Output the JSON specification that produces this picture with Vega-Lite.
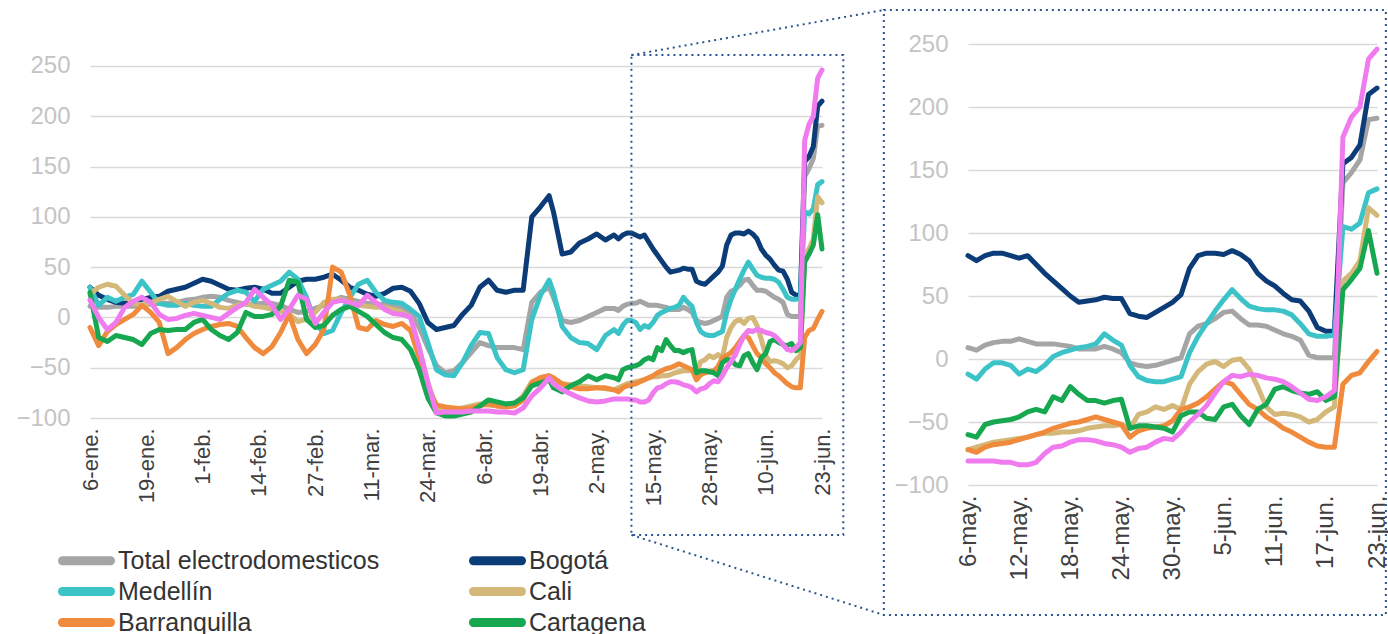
{
  "$schema": "https://vega.github.io/schema/vega-lite/v6.json",
  "background": "white",
  "padding": {"left": 15, "top": 8, "right": 0, "bottom": 0},
  "autosize": {"type": "pad"},
  "bounds": "flush",
  "spacing": 146,
  "config": {
    "view": {"stroke": null},
    "font": "Liberation Sans"
  },
  "datasets": {
    "s": [
      {"d":"2020-01-06","Total electrodomesticos":11,"Bogotá":30,"Medellín":30,"Cali":23,"Barranquilla":-10,"Cartagena":25,"Bucaramanga":17},
      {"d":"2020-01-08","Total electrodomesticos":10,"Bogotá":22,"Medellín":12,"Cali":30,"Barranquilla":-28,"Cartagena":-20,"Bucaramanga":0},
      {"d":"2020-01-10","Total electrodomesticos":10,"Bogotá":18,"Medellín":20,"Cali":33,"Barranquilla":-14,"Cartagena":-24,"Bucaramanga":-12},
      {"d":"2020-01-12","Total electrodomesticos":11,"Bogotá":15,"Medellín":16,"Cali":31,"Barranquilla":-7,"Cartagena":-18,"Bucaramanga":-5},
      {"d":"2020-01-14","Total electrodomesticos":11,"Bogotá":14,"Medellín":20,"Cali":22,"Barranquilla":-2,"Cartagena":-20,"Bucaramanga":10},
      {"d":"2020-01-16","Total electrodomesticos":11,"Bogotá":16,"Medellín":23,"Cali":14,"Barranquilla":3,"Cartagena":-22,"Bucaramanga":16},
      {"d":"2020-01-18","Total electrodomesticos":12,"Bogotá":18,"Medellín":36,"Cali":12,"Barranquilla":12,"Cartagena":-27,"Bucaramanga":20},
      {"d":"2020-01-20","Total electrodomesticos":13,"Bogotá":20,"Medellín":25,"Cali":14,"Barranquilla":5,"Cartagena":-16,"Bucaramanga":15},
      {"d":"2020-01-22","Total electrodomesticos":14,"Bogotá":21,"Medellín":14,"Cali":18,"Barranquilla":-5,"Cartagena":-12,"Bucaramanga":3},
      {"d":"2020-01-24","Total electrodomesticos":14,"Bogotá":26,"Medellín":12,"Cali":21,"Barranquilla":-36,"Cartagena":-13,"Bucaramanga":-2},
      {"d":"2020-01-26","Total electrodomesticos":15,"Bogotá":28,"Medellín":12,"Cali":16,"Barranquilla":-30,"Cartagena":-12,"Bucaramanga":-1},
      {"d":"2020-01-28","Total electrodomesticos":17,"Bogotá":30,"Medellín":14,"Cali":11,"Barranquilla":-22,"Cartagena":-12,"Bucaramanga":2},
      {"d":"2020-01-30","Total electrodomesticos":18,"Bogotá":34,"Medellín":12,"Cali":15,"Barranquilla":-16,"Cartagena":-5,"Bucaramanga":4},
      {"d":"2020-02-01","Total electrodomesticos":20,"Bogotá":38,"Medellín":11,"Cali":17,"Barranquilla":-12,"Cartagena":-2,"Bucaramanga":2},
      {"d":"2020-02-03","Total electrodomesticos":21,"Bogotá":36,"Medellín":11,"Cali":14,"Barranquilla":-9,"Cartagena":-12,"Bucaramanga":0},
      {"d":"2020-02-05","Total electrodomesticos":20,"Bogotá":32,"Medellín":18,"Cali":10,"Barranquilla":-7,"Cartagena":-18,"Bucaramanga":-2},
      {"d":"2020-02-07","Total electrodomesticos":17,"Bogotá":28,"Medellín":24,"Cali":9,"Barranquilla":-6,"Cartagena":-22,"Bucaramanga":4},
      {"d":"2020-02-09","Total electrodomesticos":15,"Bogotá":27,"Medellín":27,"Cali":12,"Barranquilla":-9,"Cartagena":-15,"Bucaramanga":10},
      {"d":"2020-02-11","Total electrodomesticos":13,"Bogotá":29,"Medellín":25,"Cali":14,"Barranquilla":-20,"Cartagena":5,"Bucaramanga":15},
      {"d":"2020-02-13","Total electrodomesticos":13,"Bogotá":30,"Medellín":16,"Cali":11,"Barranquilla":-30,"Cartagena":1,"Bucaramanga":28},
      {"d":"2020-02-15","Total electrodomesticos":14,"Bogotá":28,"Medellín":28,"Cali":10,"Barranquilla":-36,"Cartagena":1,"Bucaramanga":20},
      {"d":"2020-02-17","Total electrodomesticos":14,"Bogotá":24,"Medellín":32,"Cali":8,"Barranquilla":-29,"Cartagena":3,"Bucaramanga":12},
      {"d":"2020-02-19","Total electrodomesticos":12,"Bogotá":24,"Medellín":36,"Cali":6,"Barranquilla":-15,"Cartagena":11,"Bucaramanga":-2},
      {"d":"2020-02-21","Total electrodomesticos":8,"Bogotá":30,"Medellín":45,"Cali":3,"Barranquilla":3,"Cartagena":37,"Bucaramanga":8},
      {"d":"2020-02-23","Total electrodomesticos":5,"Bogotá":36,"Medellín":38,"Cali":-4,"Barranquilla":-22,"Cartagena":35,"Bucaramanga":22},
      {"d":"2020-02-25","Total electrodomesticos":6,"Bogotá":38,"Medellín":20,"Cali":-2,"Barranquilla":-36,"Cartagena":-2,"Bucaramanga":18},
      {"d":"2020-02-27","Total electrodomesticos":9,"Bogotá":38,"Medellín":-5,"Cali":5,"Barranquilla":-27,"Cartagena":-10,"Bucaramanga":-6},
      {"d":"2020-02-29","Total electrodomesticos":12,"Bogotá":40,"Medellín":-16,"Cali":15,"Barranquilla":-12,"Cartagena":-8,"Bucaramanga":5},
      {"d":"2020-03-02","Total electrodomesticos":16,"Bogotá":43,"Medellín":-13,"Cali":18,"Barranquilla":50,"Cartagena":2,"Bucaramanga":15},
      {"d":"2020-03-04","Total electrodomesticos":20,"Bogotá":37,"Medellín":5,"Cali":18,"Barranquilla":45,"Cartagena":8,"Bucaramanga":17},
      {"d":"2020-03-06","Total electrodomesticos":18,"Bogotá":30,"Medellín":20,"Cali":15,"Barranquilla":22,"Cartagena":11,"Bucaramanga":15},
      {"d":"2020-03-08","Total electrodomesticos":16,"Bogotá":27,"Medellín":33,"Cali":12,"Barranquilla":-10,"Cartagena":6,"Bucaramanga":12},
      {"d":"2020-03-10","Total electrodomesticos":14,"Bogotá":23,"Medellín":37,"Cali":11,"Barranquilla":-12,"Cartagena":1,"Bucaramanga":22},
      {"d":"2020-03-12","Total electrodomesticos":13,"Bogotá":21,"Medellín":25,"Cali":10,"Barranquilla":-3,"Cartagena":-7,"Bucaramanga":15},
      {"d":"2020-03-14","Total electrodomesticos":13,"Bogotá":24,"Medellín":17,"Cali":10,"Barranquilla":-7,"Cartagena":-15,"Bucaramanga":8},
      {"d":"2020-03-16","Total electrodomesticos":12,"Bogotá":29,"Medellín":15,"Cali":8,"Barranquilla":-9,"Cartagena":-20,"Bucaramanga":4},
      {"d":"2020-03-18","Total electrodomesticos":10,"Bogotá":30,"Medellín":14,"Cali":5,"Barranquilla":-6,"Cartagena":-22,"Bucaramanga":3},
      {"d":"2020-03-20","Total electrodomesticos":5,"Bogotá":26,"Medellín":8,"Cali":0,"Barranquilla":-13,"Cartagena":-32,"Bucaramanga":0},
      {"d":"2020-03-22","Total electrodomesticos":-10,"Bogotá":14,"Medellín":1,"Cali":-30,"Barranquilla":-40,"Cartagena":-52,"Bucaramanga":-30},
      {"d":"2020-03-24","Total electrodomesticos":-30,"Bogotá":-5,"Medellín":-25,"Cali":-65,"Barranquilla":-70,"Cartagena":-80,"Bucaramanga":-65},
      {"d":"2020-03-26","Total electrodomesticos":-48,"Bogotá":-12,"Medellín":-52,"Cali":-90,"Barranquilla":-87,"Cartagena":-95,"Bucaramanga":-95},
      {"d":"2020-03-28","Total electrodomesticos":-55,"Bogotá":-10,"Medellín":-57,"Cali":-92,"Barranquilla":-89,"Cartagena":-98,"Bucaramanga":-94},
      {"d":"2020-03-30","Total electrodomesticos":-53,"Bogotá":-8,"Medellín":-58,"Cali":-91,"Barranquilla":-90,"Cartagena":-98,"Bucaramanga":-94},
      {"d":"2020-04-01","Total electrodomesticos":-45,"Bogotá":3,"Medellín":-45,"Cali":-90,"Barranquilla":-91,"Cartagena":-96,"Bucaramanga":-94},
      {"d":"2020-04-03","Total electrodomesticos":-35,"Bogotá":12,"Medellín":-28,"Cali":-88,"Barranquilla":-90,"Cartagena":-94,"Bucaramanga":-93},
      {"d":"2020-04-05","Total electrodomesticos":-25,"Bogotá":30,"Medellín":-15,"Cali":-86,"Barranquilla":-88,"Cartagena":-88,"Bucaramanga":-93},
      {"d":"2020-04-07","Total electrodomesticos":-28,"Bogotá":37,"Medellín":-16,"Cali":-87,"Barranquilla":-86,"Cartagena":-82,"Bucaramanga":-93},
      {"d":"2020-04-09","Total electrodomesticos":-30,"Bogotá":27,"Medellín":-40,"Cali":-88,"Barranquilla":-88,"Cartagena":-84,"Bucaramanga":-94},
      {"d":"2020-04-11","Total electrodomesticos":-30,"Bogotá":25,"Medellín":-52,"Cali":-88,"Barranquilla":-89,"Cartagena":-86,"Bucaramanga":-94},
      {"d":"2020-04-13","Total electrodomesticos":-30,"Bogotá":27,"Medellín":-55,"Cali":-86,"Barranquilla":-88,"Cartagena":-85,"Bucaramanga":-95},
      {"d":"2020-04-15","Total electrodomesticos":-32,"Bogotá":27,"Medellín":-52,"Cali":-78,"Barranquilla":-82,"Cartagena":-80,"Bucaramanga":-90},
      {"d":"2020-04-17","Total electrodomesticos":15,"Bogotá":100,"Medellín":-2,"Cali":-64,"Barranquilla":-65,"Cartagena":-68,"Bucaramanga":-78},
      {"d":"2020-04-19","Total electrodomesticos":25,"Bogotá":110,"Medellín":22,"Cali":-60,"Barranquilla":-60,"Cartagena":-65,"Bucaramanga":-70},
      {"d":"2020-04-21","Total electrodomesticos":30,"Bogotá":121,"Medellín":37,"Cali":-58,"Barranquilla":-58,"Cartagena":-62,"Bucaramanga":-60},
      {"d":"2020-04-22","Total electrodomesticos":20,"Bogotá":105,"Medellín":25,"Cali":-63,"Barranquilla":-60,"Cartagena":-70,"Bucaramanga":-66},
      {"d":"2020-04-24","Total electrodomesticos":-3,"Bogotá":63,"Medellín":-9,"Cali":-66,"Barranquilla":-66,"Cartagena":-74,"Bucaramanga":-72},
      {"d":"2020-04-26","Total electrodomesticos":-5,"Bogotá":65,"Medellín":-20,"Cali":-67,"Barranquilla":-69,"Cartagena":-68,"Bucaramanga":-76},
      {"d":"2020-04-28","Total electrodomesticos":-3,"Bogotá":74,"Medellín":-25,"Cali":-68,"Barranquilla":-71,"Cartagena":-64,"Bucaramanga":-80},
      {"d":"2020-04-30","Total electrodomesticos":1,"Bogotá":78,"Medellín":-26,"Cali":-69,"Barranquilla":-71,"Cartagena":-58,"Bucaramanga":-83},
      {"d":"2020-05-02","Total electrodomesticos":5,"Bogotá":83,"Medellín":-32,"Cali":-70,"Barranquilla":-70,"Cartagena":-62,"Bucaramanga":-84},
      {"d":"2020-05-04","Total electrodomesticos":9,"Bogotá":77,"Medellín":-18,"Cali":-71,"Barranquilla":-70,"Cartagena":-58,"Bucaramanga":-83},
      {"d":"2020-05-06","Total electrodomesticos":9,"Bogotá":82,"Medellín":-12,"Cali":-72,"Barranquilla":-72,"Cartagena":-60,"Bucaramanga":-81},
      {"d":"2020-05-07","Total electrodomesticos":7,"Bogotá":78,"Medellín":-16,"Cali":-70,"Barranquilla":-74,"Cartagena":-62,"Bucaramanga":-81},
      {"d":"2020-05-08","Total electrodomesticos":11,"Bogotá":82,"Medellín":-8,"Cali":-68,"Barranquilla":-70,"Cartagena":-52,"Bucaramanga":-81},
      {"d":"2020-05-09","Total electrodomesticos":13,"Bogotá":84,"Medellín":-3,"Cali":-66,"Barranquilla":-68,"Cartagena":-50,"Bucaramanga":-81},
      {"d":"2020-05-10","Total electrodomesticos":14,"Bogotá":84,"Medellín":-3,"Cali":-65,"Barranquilla":-67,"Cartagena":-49,"Bucaramanga":-82},
      {"d":"2020-05-11","Total electrodomesticos":14,"Bogotá":82,"Medellín":-5,"Cali":-64,"Barranquilla":-66,"Cartagena":-48,"Bucaramanga":-82},
      {"d":"2020-05-12","Total electrodomesticos":16,"Bogotá":80,"Medellín":-12,"Cali":-63,"Barranquilla":-64,"Cartagena":-46,"Bucaramanga":-84},
      {"d":"2020-05-13","Total electrodomesticos":14,"Bogotá":82,"Medellín":-8,"Cali":-62,"Barranquilla":-62,"Cartagena":-42,"Bucaramanga":-84},
      {"d":"2020-05-14","Total electrodomesticos":12,"Bogotá":75,"Medellín":-10,"Cali":-60,"Barranquilla":-60,"Cartagena":-40,"Bucaramanga":-82},
      {"d":"2020-05-15","Total electrodomesticos":12,"Bogotá":68,"Medellín":-5,"Cali":-59,"Barranquilla":-58,"Cartagena":-42,"Bucaramanga":-75},
      {"d":"2020-05-16","Total electrodomesticos":12,"Bogotá":62,"Medellín":2,"Cali":-59,"Barranquilla":-55,"Cartagena":-30,"Bucaramanga":-70},
      {"d":"2020-05-17","Total electrodomesticos":11,"Bogotá":56,"Medellín":5,"Cali":-58,"Barranquilla":-53,"Cartagena":-33,"Bucaramanga":-69},
      {"d":"2020-05-18","Total electrodomesticos":10,"Bogotá":50,"Medellín":7,"Cali":-58,"Barranquilla":-51,"Cartagena":-22,"Bucaramanga":-66},
      {"d":"2020-05-19","Total electrodomesticos":8,"Bogotá":45,"Medellín":9,"Cali":-57,"Barranquilla":-50,"Cartagena":-28,"Bucaramanga":-64},
      {"d":"2020-05-20","Total electrodomesticos":8,"Bogotá":46,"Medellín":10,"Cali":-55,"Barranquilla":-48,"Cartagena":-33,"Bucaramanga":-64},
      {"d":"2020-05-21","Total electrodomesticos":8,"Bogotá":47,"Medellín":12,"Cali":-54,"Barranquilla":-46,"Cartagena":-33,"Bucaramanga":-65},
      {"d":"2020-05-22","Total electrodomesticos":10,"Bogotá":49,"Medellín":20,"Cali":-53,"Barranquilla":-48,"Cartagena":-35,"Bucaramanga":-67},
      {"d":"2020-05-23","Total electrodomesticos":8,"Bogotá":48,"Medellín":15,"Cali":-53,"Barranquilla":-50,"Cartagena":-33,"Bucaramanga":-68},
      {"d":"2020-05-24","Total electrodomesticos":5,"Bogotá":48,"Medellín":11,"Cali":-52,"Barranquilla":-52,"Cartagena":-32,"Bucaramanga":-70},
      {"d":"2020-05-25","Total electrodomesticos":-3,"Bogotá":36,"Medellín":-5,"Cali":-55,"Barranquilla":-62,"Cartagena":-55,"Bucaramanga":-74},
      {"d":"2020-05-26","Total electrodomesticos":-5,"Bogotá":34,"Medellín":-14,"Cali":-44,"Barranquilla":-57,"Cartagena":-53,"Bucaramanga":-71},
      {"d":"2020-05-27","Total electrodomesticos":-6,"Bogotá":33,"Medellín":-17,"Cali":-42,"Barranquilla":-55,"Cartagena":-53,"Bucaramanga":-70},
      {"d":"2020-05-28","Total electrodomesticos":-5,"Bogotá":37,"Medellín":-18,"Cali":-38,"Barranquilla":-54,"Cartagena":-54,"Bucaramanga":-66},
      {"d":"2020-05-29","Total electrodomesticos":-3,"Bogotá":41,"Medellín":-18,"Cali":-40,"Barranquilla":-53,"Cartagena":-55,"Bucaramanga":-63},
      {"d":"2020-05-30","Total electrodomesticos":-1,"Bogotá":45,"Medellín":-16,"Cali":-37,"Barranquilla":-49,"Cartagena":-58,"Bucaramanga":-64},
      {"d":"2020-05-31","Total electrodomesticos":1,"Bogotá":51,"Medellín":-14,"Cali":-40,"Barranquilla":-40,"Cartagena":-45,"Bucaramanga":-58},
      {"d":"2020-06-01","Total electrodomesticos":20,"Bogotá":72,"Medellín":5,"Cali":-20,"Barranquilla":-38,"Cartagena":-42,"Bucaramanga":-50},
      {"d":"2020-06-02","Total electrodomesticos":26,"Bogotá":82,"Medellín":18,"Cali":-10,"Barranquilla":-35,"Cartagena":-42,"Bucaramanga":-44},
      {"d":"2020-06-03","Total electrodomesticos":28,"Bogotá":84,"Medellín":28,"Cali":-4,"Barranquilla":-30,"Cartagena":-47,"Bucaramanga":-37},
      {"d":"2020-06-04","Total electrodomesticos":32,"Bogotá":84,"Medellín":38,"Cali":-2,"Barranquilla":-24,"Cartagena":-48,"Bucaramanga":-27},
      {"d":"2020-06-05","Total electrodomesticos":37,"Bogotá":83,"Medellín":47,"Cali":-6,"Barranquilla":-18,"Cartagena":-38,"Bucaramanga":-18},
      {"d":"2020-06-06","Total electrodomesticos":38,"Bogotá":86,"Medellín":55,"Cali":-1,"Barranquilla":-20,"Cartagena":-36,"Bucaramanga":-13},
      {"d":"2020-06-07","Total electrodomesticos":32,"Bogotá":83,"Medellín":48,"Cali":0,"Barranquilla":-28,"Cartagena":-45,"Bucaramanga":-14},
      {"d":"2020-06-08","Total electrodomesticos":27,"Bogotá":78,"Medellín":42,"Cali":-8,"Barranquilla":-36,"Cartagena":-52,"Bucaramanga":-12},
      {"d":"2020-06-09","Total electrodomesticos":27,"Bogotá":68,"Medellín":40,"Cali":-22,"Barranquilla":-40,"Cartagena":-40,"Bucaramanga":-13},
      {"d":"2020-06-10","Total electrodomesticos":26,"Bogotá":62,"Medellín":39,"Cali":-38,"Barranquilla":-46,"Cartagena":-36,"Bucaramanga":-15},
      {"d":"2020-06-11","Total electrodomesticos":23,"Bogotá":58,"Medellín":39,"Cali":-44,"Barranquilla":-50,"Cartagena":-24,"Bucaramanga":-16},
      {"d":"2020-06-12","Total electrodomesticos":20,"Bogotá":52,"Medellín":38,"Cali":-43,"Barranquilla":-55,"Cartagena":-22,"Bucaramanga":-18},
      {"d":"2020-06-13","Total electrodomesticos":18,"Bogotá":47,"Medellín":35,"Cali":-44,"Barranquilla":-58,"Cartagena":-25,"Bucaramanga":-22},
      {"d":"2020-06-14","Total electrodomesticos":15,"Bogotá":46,"Medellín":28,"Cali":-46,"Barranquilla":-62,"Cartagena":-27,"Bucaramanga":-27},
      {"d":"2020-06-15","Total electrodomesticos":3,"Bogotá":38,"Medellín":20,"Cali":-50,"Barranquilla":-66,"Cartagena":-28,"Bucaramanga":-32},
      {"d":"2020-06-16","Total electrodomesticos":1,"Bogotá":25,"Medellín":18,"Cali":-48,"Barranquilla":-69,"Cartagena":-26,"Bucaramanga":-33},
      {"d":"2020-06-17","Total electrodomesticos":1,"Bogotá":22,"Medellín":18,"Cali":-42,"Barranquilla":-70,"Cartagena":-33,"Bucaramanga":-30},
      {"d":"2020-06-18","Total electrodomesticos":1,"Bogotá":22,"Medellín":19,"Cali":-38,"Barranquilla":-70,"Cartagena":-30,"Bucaramanga":-25},
      {"d":"2020-06-19","Total electrodomesticos":140,"Bogotá":155,"Medellín":105,"Cali":62,"Barranquilla":-20,"Cartagena":55,"Bucaramanga":176},
      {"d":"2020-06-20","Total electrodomesticos":148,"Bogotá":160,"Medellín":103,"Cali":68,"Barranquilla":-13,"Cartagena":63,"Bucaramanga":192},
      {"d":"2020-06-21","Total electrodomesticos":158,"Bogotá":170,"Medellín":108,"Cali":78,"Barranquilla":-11,"Cartagena":72,"Bucaramanga":200},
      {"d":"2020-06-22","Total electrodomesticos":190,"Bogotá":210,"Medellín":132,"Cali":120,"Barranquilla":-2,"Cartagena":102,"Bucaramanga":238},
      {"d":"2020-06-23","Total electrodomesticos":191,"Bogotá":215,"Medellín":135,"Cali":114,"Barranquilla":6,"Cartagena":68,"Bucaramanga":246}
    ]
  },
  "resolve": {
    "scale": {"x": "independent", "y": "independent", "color": "independent"},
    "legend": {"color": "independent"}
  },
  "hconcat": [
    {
      "width": 732,
      "height": 374,
      "layer": [
        {
          "data": {"name": "s"},
          "transform": [
            {"fold": ["Total electrodomesticos", "Bogotá", "Medellín", "Cali", "Barranquilla", "Cartagena", "Bucaramanga"], "as": ["serie", "valor"]}
          ],
          "mark": {"type": "line", "strokeWidth": 5, "strokeJoin": "round", "strokeCap": "round"},
          "encoding": {
            "x": {
              "field": "d", "type": "temporal",
              "scale": {"type": "utc", "domain": [{"year": 2020, "month": 1, "date": 6, "utc": true}, {"year": 2020, "month": 6, "date": 23, "utc": true}]},
              "axis": {
                "title": null, "grid": false, "ticks": false, "domain": false,
                "values": [
                  {"year": 2020, "month": 1, "date": 6, "utc": true},
                  {"year": 2020, "month": 1, "date": 19, "utc": true},
                  {"year": 2020, "month": 2, "date": 1, "utc": true},
                  {"year": 2020, "month": 2, "date": 14, "utc": true},
                  {"year": 2020, "month": 2, "date": 27, "utc": true},
                  {"year": 2020, "month": 3, "date": 11, "utc": true},
                  {"year": 2020, "month": 3, "date": 24, "utc": true},
                  {"year": 2020, "month": 4, "date": 6, "utc": true},
                  {"year": 2020, "month": 4, "date": 19, "utc": true},
                  {"year": 2020, "month": 5, "date": 2, "utc": true},
                  {"year": 2020, "month": 5, "date": 15, "utc": true},
                  {"year": 2020, "month": 5, "date": 28, "utc": true},
                  {"year": 2020, "month": 6, "date": 10, "utc": true},
                  {"year": 2020, "month": 6, "date": 23, "utc": true}
                ],
                "labelExpr": "utcdate(datum.value) + '-' + ['ene','feb','mar','abr','may','jun','jul'][utcmonth(datum.value)] + '.'",
                "labelAngle": -90, "labelAlign": "right", "labelBaseline": "middle",
                "labelFontSize": 22, "labelColor": "#404040", "labelPadding": 10,
                "labelFlush": false, "labelOverlap": false
              }
            },
            "y": {
              "field": "valor", "type": "quantitative",
              "scale": {"domain": [-100, 271.87], "nice": false, "zero": false},
              "axis": {
                "title": null, "values": [-100, -50, 0, 50, 100, 150, 200, 250],
                "grid": true, "gridColor": "#d9d9d9", "gridWidth": 1.5,
                "domain": false, "ticks": false,
                "labelFontSize": 24, "labelColor": "#c4c4c4", "labelPadding": 20
              }
            },
            "color": {
              "field": "serie", "type": "nominal",
              "scale": {
                "domain": ["Total electrodomesticos", "Bogotá", "Medellín", "Cali", "Barranquilla", "Cartagena", "Bucaramanga"],
                "range": ["#a5a5a5", "#0b3c78", "#3cc3c8", "#d3b87a", "#f08a3c", "#16a750", "#ef7bef"]
              },
              "legend": {
                "orient": "none", "legendX": -16, "legendY": 504,
                "direction": "horizontal",
                "columns": 2, "columnPadding": 75, "rowPadding": -9,
                "title": null,
                "values": ["Total electrodomesticos", "Bogotá", "Medellín", "Cali", "Barranquilla", "Cartagena"],
                "symbolType": "M-3,0H3", "symbolSize": 256, "symbolStrokeWidth": 9,
                "labelFontSize": 25, "labelColor": "#333333", "labelLimit": 400, "labelOffset": 19,
                "encode": {"symbols": {"update": {"strokeCap": {"value": "round"}}}}
              }
            }
          }
        },
        {
          "data": {"values": [{}]},
          "mark": {"type": "rect", "filled": false, "stroke": "#2a5490", "strokeWidth": 2, "strokeDash": [2, 4], "clip": false},
          "encoding": {
            "x": {"datum": {"year": 2020, "month": 5, "date": 10, "utc": true}, "type": "temporal"},
            "x2": {"datum": {"year": 2020, "month": 6, "date": 27, "hours": 22, "utc": true}},
            "y": {"datum": 260.9, "type": "quantitative"},
            "y2": {"datum": -216.3}
          }
        },
        {
          "data": {"values": [{}]},
          "mark": {"type": "rule", "stroke": "#2a5490", "strokeWidth": 2, "strokeDash": [2, 4], "clip": false},
          "encoding": {
            "x": {"datum": {"year": 2020, "month": 5, "date": 10, "utc": true}, "type": "temporal"},
            "x2": {"datum": {"year": 2020, "month": 7, "date": 7, "hours": 8, "utc": true}},
            "y": {"datum": 260.9, "type": "quantitative"},
            "y2": {"datum": 305.7}
          }
        },
        {
          "data": {"values": [{}]},
          "mark": {"type": "rule", "stroke": "#2a5490", "strokeWidth": 2, "strokeDash": [2, 4], "clip": false},
          "encoding": {
            "x": {"datum": {"year": 2020, "month": 5, "date": 10, "utc": true}, "type": "temporal"},
            "x2": {"datum": {"year": 2020, "month": 7, "date": 7, "hours": 8, "utc": true}},
            "y": {"datum": -216.3, "type": "quantitative"},
            "y2": {"datum": -295.9}
          }
        }
      ]
    },
    {
      "width": 409,
      "height": 441,
      "layer": [
        {
          "data": {"name": "s"},
          "transform": [
            {"fold": ["Total electrodomesticos", "Bogotá", "Medellín", "Cali", "Barranquilla", "Cartagena", "Bucaramanga"], "as": ["serie", "valor"]},
            {"filter": {"field": "d", "gte": {"year": 2020, "month": 5, "date": 6, "utc": true}}}
          ],
          "mark": {"type": "line", "strokeWidth": 5, "strokeJoin": "round", "strokeCap": "round"},
          "encoding": {
            "x": {
              "field": "d", "type": "temporal",
              "scale": {"type": "utc", "domain": [{"year": 2020, "month": 5, "date": 6, "utc": true}, {"year": 2020, "month": 6, "date": 23, "utc": true}]},
              "axis": {
                "title": null, "grid": false, "ticks": false, "domain": false,
                "values": [
                  {"year": 2020, "month": 5, "date": 6, "utc": true},
                  {"year": 2020, "month": 5, "date": 12, "utc": true},
                  {"year": 2020, "month": 5, "date": 18, "utc": true},
                  {"year": 2020, "month": 5, "date": 24, "utc": true},
                  {"year": 2020, "month": 5, "date": 30, "utc": true},
                  {"year": 2020, "month": 6, "date": 5, "utc": true},
                  {"year": 2020, "month": 6, "date": 11, "utc": true},
                  {"year": 2020, "month": 6, "date": 17, "utc": true},
                  {"year": 2020, "month": 6, "date": 23, "utc": true}
                ],
                "labelExpr": "utcdate(datum.value) + '-' + ['ene','feb','mar','abr','may','jun','jul'][utcmonth(datum.value)] + '.'",
                "labelAngle": -90, "labelAlign": "right", "labelBaseline": "middle",
                "labelFontSize": 24, "labelColor": "#404040", "labelPadding": 10,
                "labelFlush": false, "labelOverlap": false
              }
            },
            "y": {
              "field": "valor", "type": "quantitative",
              "scale": {"domain": [-100, 250], "nice": false, "zero": false},
              "axis": {
                "title": null, "values": [-100, -50, 0, 50, 100, 150, 200, 250],
                "grid": true, "gridColor": "#d9d9d9", "gridWidth": 1.5,
                "domain": false, "ticks": false,
                "labelFontSize": 24, "labelColor": "#c4c4c4", "labelPadding": 20
              }
            },
            "color": {
              "field": "serie", "type": "nominal",
              "scale": {
                "domain": ["Total electrodomesticos", "Bogotá", "Medellín", "Cali", "Barranquilla", "Cartagena", "Bucaramanga"],
                "range": ["#a5a5a5", "#0b3c78", "#3cc3c8", "#d3b87a", "#f08a3c", "#16a750", "#ef7bef"]
              },
              "legend": null
            }
          }
        },
        {
          "data": {"values": [{}]},
          "mark": {"type": "rect", "filled": false, "stroke": "#2a5490", "strokeWidth": 2, "strokeDash": [2, 4], "clip": false},
          "encoding": {
            "x": {"datum": {"year": 2020, "month": 4, "date": 26, "hours": 3, "utc": true}, "type": "temporal"},
            "x2": {"datum": {"year": 2020, "month": 6, "date": 24, "hours": 1, "utc": true}},
            "y": {"datum": 277, "type": "quantitative"},
            "y2": {"datum": -203.2}
          }
        }
      ]
    }
  ]
}
